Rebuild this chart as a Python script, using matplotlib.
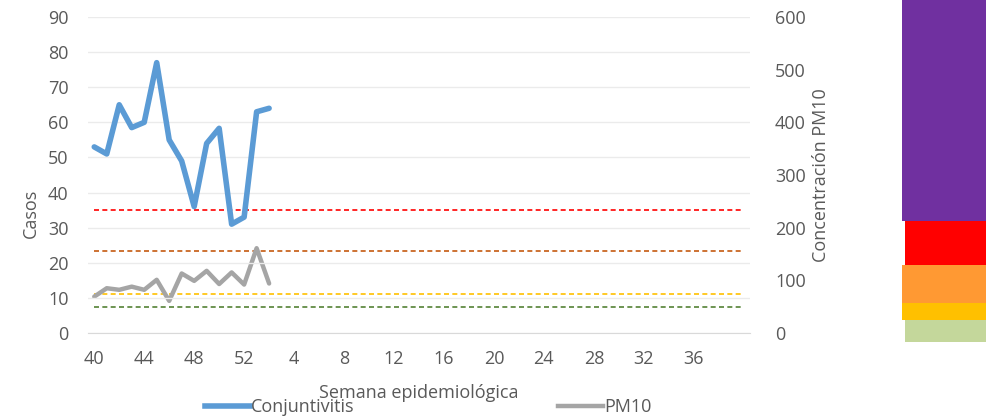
import matplotlib
matplotlib.use("Agg")
import matplotlib.pyplot as plt
from matplotlib.lines import Line2D

plt.rcParams["font.family"] = ["Open Sans", "DejaVu Sans"]
fontsize = 13
text_color = "#595959"

# epidemiological weeks (40 of one year to 40 of the next)
weeks = list(range(40, 53)) + list(range(1, 41))
tick_every = 4

conjuntivitis = [53, 51, 65, 58.5, 60, 77, 55, 49, 36, 54, 58.3, 31, 33, 63, 64]
pm10 = [69, 85, 82, 88, 82, 101, 61, 113, 99, 118, 93, 115, 92, 161, 94]

# reference levels of PM10 (right axis units)
levels = [50, 75, 155, 234]
level_colors = ["#548235", "#FFC000", "#C55A11", "#FF0000"]

# colour strip at the right side, bottom to top
strip_edges = [0, 22, 39, 77, 121, 342]
strip_colors = ["#C4D79B", "#FFC000", "#FF9933", "#FF0000", "#7030A0"]
strip_inset = [3, 0, 0, 3, 0]

fig = plt.figure(figsize=(9.86, 4.18), dpi=100)
ax = fig.add_axes([88 / 986, 85 / 418, 662 / 986, 316 / 418])
ax2 = ax.twinx()

x = list(range(len(weeks)))

for lvl, c in zip(levels, level_colors):
    ax2.plot([x[0], x[-1]], [lvl, lvl], color=c, linestyle=(0, (3, 2)),
             linewidth=1.2, zorder=2)

ax.plot(x[:len(conjuntivitis)], conjuntivitis, color="#5B9BD5",
        linewidth=4, solid_joinstyle="round", solid_capstyle="round", zorder=5)
ax2.plot(x[:len(pm10)], pm10, color="#A5A5A5",
         linewidth=3.2, solid_joinstyle="round", solid_capstyle="round", zorder=4)
ax.set_zorder(ax2.get_zorder() + 1)
ax.patch.set_visible(False)

ax.set_xlim(-0.5, len(weeks) - 0.5)
ax.set_ylim(0, 90)
ax2.set_ylim(0, 600)
ax.set_yticks(range(0, 91, 10))
ax2.set_yticks(range(0, 601, 100))
ax.set_xticks(x[::tick_every])
ax.set_xticklabels([str(w) for w in weeks[::tick_every]])
ax.xaxis.get_majorticklabels()[-1].set_visible(False)

ax.grid(axis="y", color="#EBEBEB", linewidth=1)
ax.set_axisbelow(True)
for a in (ax, ax2):
    for s in a.spines.values():
        s.set_visible(False)
    a.tick_params(length=0, labelsize=fontsize, colors=text_color)
ax.spines["bottom"].set_visible(True)
ax.spines["bottom"].set_color("#D9D9D9")
ax.tick_params(axis="x", pad=12)
ax.tick_params(axis="y", pad=14)
ax2.tick_params(axis="y", pad=18)

ax.set_ylabel("Casos", fontsize=fontsize, color=text_color)
ax.yaxis.set_label_coords(-0.072, 0.38)
ax2.set_ylabel("Concentración PM10", fontsize=fontsize, color=text_color)
ax2.yaxis.set_label_coords(1.094, 0.5)
ax.set_xlabel("Semana epidemiológica", fontsize=fontsize, color=text_color)
ax.xaxis.set_label_coords(0.5, -0.16)

handles = [
    Line2D([], [], color="#5B9BD5", linewidth=4),
    Line2D([], [], color="#A5A5A5", linewidth=3.2),
]
fig.legend(handles, ["Conjuntivitis", "PM10"], loc="center",
           bbox_to_anchor=(428 / 986, 11 / 418), ncol=2, frameon=False,
           fontsize=fontsize, labelcolor=text_color, handlelength=2.5,
           handletextpad=0.05, columnspacing=11.3, borderpad=0)

# colour strip
sax = fig.add_axes([902 / 986, (418 - 342) / 418, 84 / 986, 342 / 418])
for i, c in enumerate(strip_colors):
    sax.bar(strip_inset[i], strip_edges[i + 1] - strip_edges[i],
            bottom=strip_edges[i], width=84 - strip_inset[i], align="edge",
            color=c, linewidth=0)
sax.set_xlim(0, 84)
sax.set_ylim(0, strip_edges[-1])
sax.axis("off")

fig.savefig("out.png", dpi=100)
